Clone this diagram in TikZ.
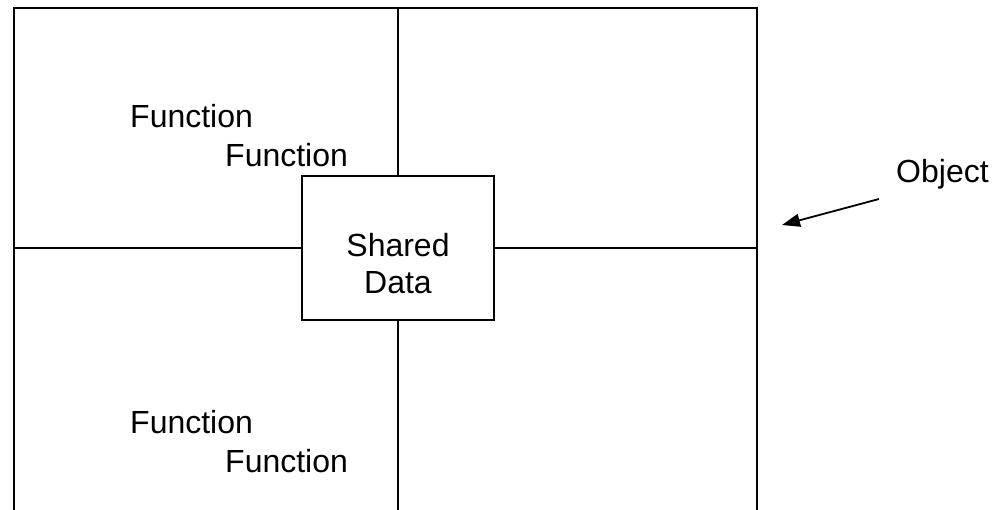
\documentclass[tikz,border=0pt]{standalone}
\usepackage{fontspec}
\setmainfont{Liberation Sans}
\usetikzlibrary{arrows.meta}

\begin{document}
\begin{tikzpicture}[x=1bp,y=-1bp,
  frame/.style={line width=2bp,draw=black},
  txt/.style={font=\fontsize{32bp}{37bp}\selectfont,inner sep=0pt,anchor=base west},
  ctxt/.style={font=\fontsize{32bp}{37bp}\selectfont,inner sep=0pt,anchor=base},
  databox/.style={frame,fill=white,minimum width=192bp,minimum height=144bp,inner sep=0pt},
  pointer/.style={line width=1.8bp,-{Triangle[length=18bp,width=13bp]}}]

  \useasboundingbox (0,0) rectangle (995,510);
  \clip (0,0) rectangle (995,510);

  % outer object frame (open at the bottom edge of the page)
  \coordinate (tl) at (14,8);
  \coordinate (tr) at (757,8);
  \coordinate (bl) at (14,520);
  \coordinate (br) at (757,520);
  \draw[frame] (bl) -- (tl) -- (tr) -- (br);

  % shared data in the middle
  \node[databox] (shared) at (398,248) {};
  \node[ctxt] (sharedA) at (398,257) {Shared};
  \node[ctxt] (sharedB) at (398,294) {Data};

  % dividing lines meeting at the shared data
  \coordinate (ntop) at (398,8);
  \coordinate (nbot) at (398,520);
  \coordinate (wmid) at (14,248);
  \coordinate (emid) at (757,248);
  \draw[frame] (ntop) -- (shared.north);
  \draw[frame] (shared.south) -- (nbot);
  \draw[frame] (wmid) -- (shared.west);
  \draw[frame] (shared.east) -- (emid);

  % functions
  \node[txt] (f1) at (130,128) {Function};
  \node[txt] (f2) at (225,167) {Function};
  \node[txt] (f3) at (130,433) {Function};
  \node[txt] (f4) at (225,472) {Function};

  % object label and pointer
  \node[txt] (obj) at (896,183) {Object};
  \coordinate (ptail) at (879,199);
  \coordinate (phead) at (782,225);
  \draw[pointer] (ptail) -- (phead);
\end{tikzpicture}
\end{document}
